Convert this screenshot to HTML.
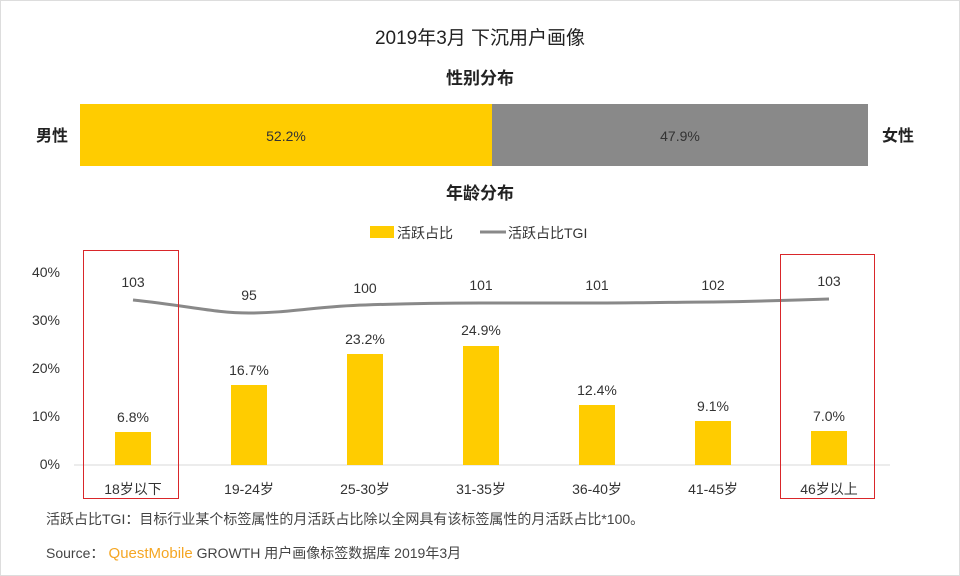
<!DOCTYPE html>
<html><head><meta charset="utf-8"><style>
body{margin:0;width:960px;height:576px;background:#fff;overflow:hidden;font-family:"Liberation Sans","Noto Sans CJK SC",sans-serif;}
#f{position:absolute;left:0;top:0;width:958px;height:574px;border:1px solid #ddd;}
</style></head><body><div id="f"></div>
<svg width="960" height="576" style="position:absolute;left:0;top:0" font-family="Liberation Sans, Noto Sans CJK SC, sans-serif">
<text x="480" y="44" font-size="19" text-anchor="middle" fill="#222">2019年3月 下沉用户画像</text>
<text x="480" y="84" font-size="17" text-anchor="middle" fill="#222" font-weight="bold">性别分布</text>
<rect x="80" y="104" width="412" height="62" fill="#FFCC00"/>
<rect x="492" y="104" width="376" height="62" fill="#898989"/>
<text x="286" y="141" font-size="14" text-anchor="middle" fill="#333">52.2%</text>
<text x="680" y="141" font-size="14" text-anchor="middle" fill="#333">47.9%</text>
<text x="52" y="141" font-size="16" text-anchor="middle" fill="#222" font-weight="bold">男性</text>
<text x="898" y="141" font-size="16" text-anchor="middle" fill="#222" font-weight="bold">女性</text>
<text x="480" y="199" font-size="17" text-anchor="middle" fill="#222" font-weight="bold">年龄分布</text>
<rect x="370" y="226" width="24" height="12" fill="#FFCC00"/>
<text x="397" y="238" font-size="14" fill="#333">活跃占比</text>
<line x1="480" y1="232" x2="506" y2="232" stroke="#898989" stroke-width="3"/>
<text x="508" y="238" font-size="14" fill="#333">活跃占比TGI</text>
<g font-size="14" fill="#333" text-anchor="end">
<text x="60" y="277">40%</text><text x="60" y="325">30%</text><text x="60" y="373">20%</text><text x="60" y="421">10%</text><text x="60" y="469">0%</text>
</g>
<line x1="74" y1="465" x2="890" y2="465" stroke="#d9d9d9"/>
<g fill="#FFCC00">
<rect x="115" y="432" width="36" height="33"/>
<rect x="231" y="385" width="36" height="80"/>
<rect x="347" y="354" width="36" height="111"/>
<rect x="463" y="346" width="36" height="119"/>
<rect x="579" y="405" width="36" height="60"/>
<rect x="695" y="421" width="36" height="44"/>
<rect x="811" y="431" width="36" height="34"/>
</g>
<g font-size="14" fill="#333" text-anchor="middle">
<text x="133" y="422">6.8%</text><text x="249" y="375">16.7%</text><text x="365" y="344">23.2%</text><text x="481" y="335">24.9%</text><text x="597" y="395">12.4%</text><text x="713" y="411">9.1%</text><text x="829" y="421">7.0%</text>
<text x="133" y="287">103</text><text x="249" y="300">95</text><text x="365" y="293">100</text><text x="481" y="290">101</text><text x="597" y="290">101</text><text x="713" y="290">102</text><text x="829" y="286">103</text>
<text x="133" y="494">18岁以下</text><text x="249" y="494">19-24岁</text><text x="365" y="494">25-30岁</text><text x="481" y="494">31-35岁</text><text x="597" y="494">36-40岁</text><text x="713" y="494">41-45岁</text><text x="829" y="494">46岁以上</text>
</g>
<path d="M133,300 C190,306 215,313 249,313 C290,313 320,306 365,305 C420,303 450,303 481,303 L597,303 C650,303 680,302 713,302 C770,301 800,300 829,299" fill="none" stroke="#898989" stroke-width="3"/>
<rect x="83.5" y="250.5" width="95" height="248" fill="none" stroke="#d9262a" stroke-width="1"/>
<rect x="780.5" y="254.5" width="94" height="244" fill="none" stroke="#d9262a" stroke-width="1"/>
<text x="46" y="524" font-size="14" fill="#444">活跃占比TGI：目标行业某个标签属性的月活跃占比除以全网具有该标签属性的月活跃占比*100。</text>
<text x="46" y="558" font-size="14" fill="#444">Source：<tspan fill="#F5A623" font-size="15"> QuestMobile</tspan> GROWTH 用户画像标签数据库 2019年3月</text>
</svg>
</body></html>
